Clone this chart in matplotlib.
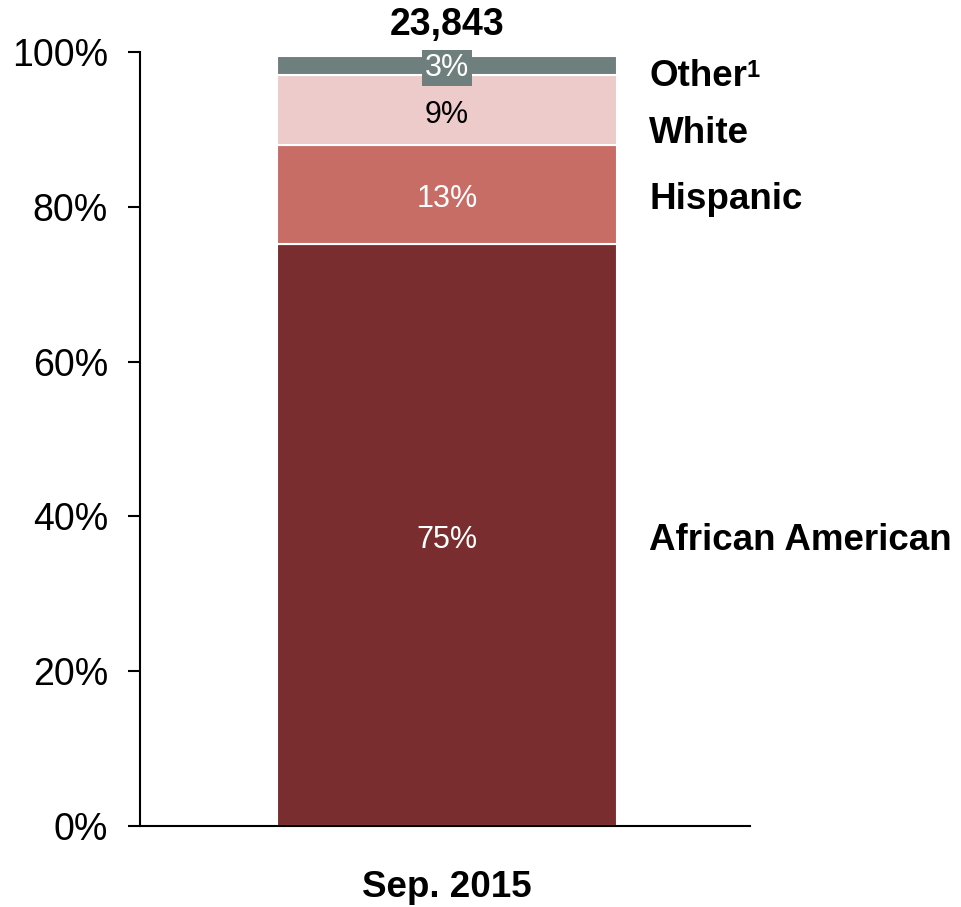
import matplotlib
matplotlib.use("Agg")
import matplotlib.pyplot as plt

plt.rcParams['font.family'] = ['Liberation Sans', 'DejaVu Sans']

category = "Sep. 2015"
total_label = "23,843"
groups = ["African American", "Hispanic", "White", "Other"]
group_notes = ["", "", "", "1"]
values = [75.2, 12.8, 9.0, 2.5]
value_labels = ["75%", "13%", "9%", "3%"]
colors = ["#7A2D2E", "#C86C66", "#ECCBCA", "#6E7F7D"]
label_colors = ["white", "white", "black", "white"]
yticks = [0, 20, 40, 60, 80, 100]
ytick_labels = ["0%", "20%", "40%", "60%", "80%", "100%"]

# layout-only: y position (data units) for right-side group labels
group_label_y = [36.9, 80.9, 89.5, 96.8]
text_shift = -0.6  # small vertical nudge for centred labels (data units)

W, H = 961, 907
fig = plt.figure(figsize=(W / 100, H / 100), dpi=100)
ax = fig.add_axes([140 / W, 81 / H, 610 / W, (826 - 52) / H])

bar_w = 1.115
bottom = 0
for i, (v, c) in enumerate(zip(values, colors)):
    ax.bar(0, v, bottom=bottom, width=bar_w, color=c, edgecolor="white", linewidth=1.5)
    mid = bottom + v / 2
    if i == 3:
        ax.text(0, mid - 0.3, value_labels[i], ha="center", va="center", color=label_colors[i],
                fontsize=22, bbox=dict(boxstyle="square,pad=0.1", fc=c, ec="none"))
    else:
        ax.text(0, mid + text_shift, value_labels[i], ha="center", va="center",
                color=label_colors[i], fontsize=22)
    t = ax.text(0.663, group_label_y[i], groups[i], ha="left", va="center",
                fontsize=26.5, fontweight="bold", color="black")
    if group_notes[i]:
        ax.annotate(group_notes[i], xy=(1, 1), xycoords=t, xytext=(0, 0),
                    textcoords="offset points", ha="left", va="top",
                    fontsize=17, fontweight="bold", color="black")
    bottom += v

ax.text(0, bottom + 1.6, total_label, ha="center", va="bottom", fontsize=27,
        fontweight="bold", color="black")

ax.set_xlim(-1.006, 0.994)
ax.set_ylim(0, 100)
ax.set_yticks(yticks)
ax.set_yticklabels(ytick_labels, fontsize=27)
ax.set_xticks([0])
ax.set_xticklabels([category], fontsize=26.5, fontweight="bold")
ax.tick_params(axis="x", length=0, pad=32)
ax.tick_params(axis="y", length=9, width=1.5, direction="out", pad=14)
for s in ["top", "right"]:
    ax.spines[s].set_visible(False)
for s in ["left", "bottom"]:
    ax.spines[s].set_linewidth(1.5)
for t in ax.texts:
    t.set_clip_on(False)

fig.savefig("out.png", dpi=100)
